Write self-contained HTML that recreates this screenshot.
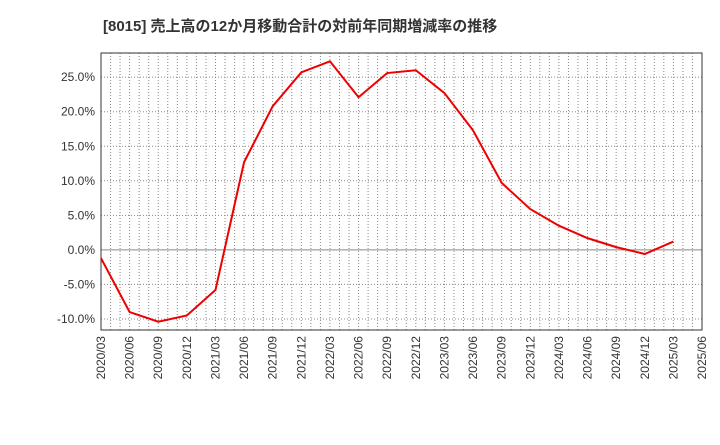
<!DOCTYPE html>
<html><head><meta charset="utf-8"><style>
body{margin:0;background:#fff;width:720px;height:440px;overflow:hidden}
text{font-family:"Liberation Sans","Noto Sans CJK JP",sans-serif}
</style></head><body>
<svg id="c" width="720" height="440" xmlns="http://www.w3.org/2000/svg">
<text x="103" y="31" font-size="15" font-weight="bold" fill="#333">[8015]  売上高の12か月移動合計の対前年同期増減率の推移</text>
</svg>
<script>
const categories=["2020/03","2020/06","2020/09","2020/12","2021/03","2021/06","2021/09","2021/12","2022/03","2022/06","2022/09","2022/12","2023/03","2023/06","2023/09","2023/12","2024/03","2024/06","2024/09","2024/12","2025/03","2025/06"];
const values=[-1.2,-9.0,-10.4,-9.5,-5.8,12.7,20.8,25.7,27.3,22.1,25.6,26.0,22.7,17.3,9.7,5.9,3.5,1.7,0.4,-0.6,1.2];
const yTicks=[-10,-5,0,5,10,15,20,25];
const yTickLabels=["-10.0%","-5.0%","0.0%","5.0%","10.0%","15.0%","20.0%","25.0%"];
const L=101,R=702,T=53,B=330,yMin=-11.6,yMax=28.5;
const xs=i=>L+(R-L)*i/(categories.length-1);
const ys=v=>B-(v-yMin)/(yMax-yMin)*(B-T);
const svg=document.getElementById('c');const NS="http://www.w3.org/2000/svg";
function mk(t,a){const e=document.createElementNS(NS,t);for(const k in a)e.setAttribute(k,a[k]);svg.appendChild(e);return e;}
// monthly vertical grid
for(let m=1;m<(categories.length-1)*3;m++){const x=L+(R-L)*m/((categories.length-1)*3);
const g=mk('line',{x1:x,x2:x,y1:T,y2:B,stroke:'#888','stroke-dasharray':'1,2','stroke-width':1});

}
yTicks.forEach((v,i)=>{const y=ys(v);
const g=mk('line',{x1:L,x2:R,y1:y,y2:y,stroke:v===0?'#888':'#888','stroke-dasharray':v===0?'':'1,2','stroke-width':1});


const t=mk('text',{x:L-6,y:y+4,'font-size':12,'text-anchor':'end',fill:'#333'});t.textContent=yTickLabels[i];

});
categories.forEach((c,i)=>{const x=xs(i);
const t=mk('text',{x:0,y:0,'font-size':12,'text-anchor':'end',fill:'#333',transform:`translate(${x+4},${B+6}) rotate(-90)`});t.textContent=c;

});
const fr=mk('rect',{x:L,y:T,width:R-L,height:B-T,fill:'none',stroke:'#333','stroke-width':1});


const p=mk('polyline',{points:values.map((v,i)=>xs(i)+','+ys(v)).join(' '),fill:'none',stroke:'#e00','stroke-width':2});


</script>
</body></html>
